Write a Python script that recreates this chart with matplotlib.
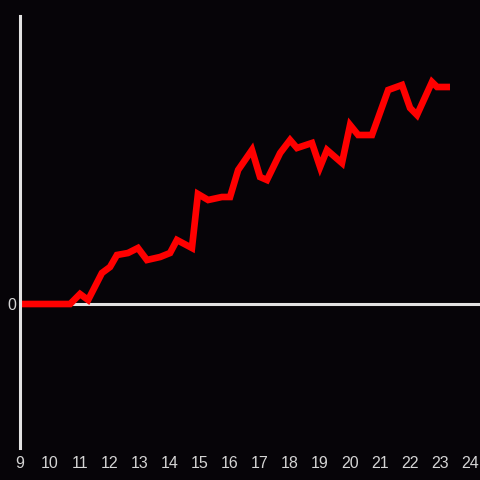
import matplotlib
matplotlib.use("Agg")
import matplotlib.pyplot as plt

# ======== Data ========
x_vals = [9.0, 10.67, 11.0, 11.27, 11.73, 12.0, 12.23, 12.6, 12.93, 13.23,
          13.67, 14.0, 14.23, 14.73, 14.93, 15.27, 15.73, 16.0, 16.27, 16.73,
          17.0, 17.23, 17.67, 18.0, 18.23, 18.73, 19.0, 19.23, 19.73, 20.0,
          20.27, 20.73, 21.27, 21.73, 22.0, 22.23, 22.73, 22.9, 23.33]
y_vals = [0.0, 0.0, 1.0, 0.4, 3.1, 3.7, 4.9, 5.1, 5.6, 4.4,
          4.7, 5.1, 6.4, 5.6, 11.0, 10.4, 10.7, 10.7, 13.4, 15.4,
          12.7, 12.4, 15.1, 16.4, 15.6, 16.1, 13.7, 15.4, 14.1, 17.9,
          16.9, 16.9, 21.4, 21.9, 19.6, 18.9, 22.2, 21.7, 21.7]
x_ticks = list(range(9, 25))
y_ticks = [0]

BG = "#060408"
AXIS_COLOR = "#e2e2e2"
TEXT_COLOR = "#d4d4d4"

plt.rcParams["font.family"] = ["Liberation Sans", "DejaVu Sans"]

fig = plt.figure(figsize=(4.8, 4.8), dpi=100, facecolor=BG)
ax = fig.add_axes([20 / 480, 32 / 480, 460 / 480, 432 / 480])
ax.set_facecolor(BG)

ax.axhline(0, color=AXIS_COLOR, linewidth=2.2, zorder=1)
ax.plot(x_vals, y_vals, color="#ff0000", linewidth=4.8,
        solid_joinstyle="miter", solid_capstyle="butt", zorder=2)

ax.set_xlim(9, 24.33)
ax.set_ylim(-14.4, 28.8)
ax.set_xticks(x_ticks)
ax.set_yticks(y_ticks)

for side in ["top", "right", "bottom"]:
    ax.spines[side].set_visible(False)
ax.spines["left"].set_color(AXIS_COLOR)
ax.spines["left"].set_linewidth(2.2)

ax.tick_params(axis="both", length=0, colors=TEXT_COLOR, labelsize=11.5)
ax.tick_params(axis="x", pad=6)
ax.tick_params(axis="y", pad=3)

fig.savefig("out.png", dpi=100, facecolor=BG)
